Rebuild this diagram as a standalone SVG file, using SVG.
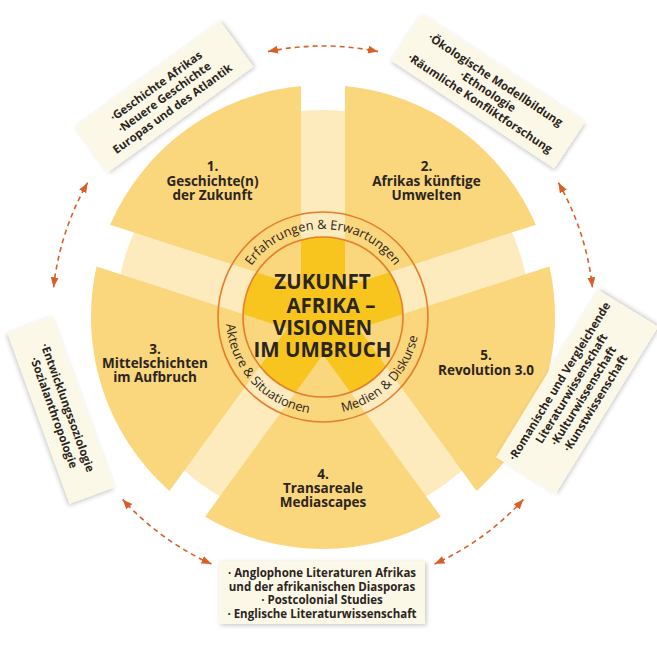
<svg xmlns="http://www.w3.org/2000/svg" xmlns:xlink="http://www.w3.org/1999/xlink" width="657" height="652" viewBox="0 0 657 652">
<style>
.sector{fill:#fad67d}
.lbl{font-family:"Open Sans","Liberation Sans",sans-serif;font-weight:700;font-size:13.5px;fill:#2b2520;text-anchor:middle}
.title{font-family:"Open Sans","Liberation Sans",sans-serif;font-weight:700;font-size:20.5px;fill:#2b2520;text-anchor:middle}
.ring{font-family:"Open Sans","Liberation Sans",sans-serif;font-size:12.8px;fill:#2b2520}
.box{fill:#fcf8e8;filter:url(#sh)}
.btxt{font-family:"Open Sans","Liberation Sans",sans-serif;font-weight:700;font-size:11.5px;fill:#2b2520;text-anchor:middle}
.arc{fill:none;stroke:#d95f28;stroke-width:1.6;stroke-dasharray:5 4;marker-start:url(#ah);marker-end:url(#ah)}
</style>
<defs>
<filter id="sh" x="-20%" y="-30%" width="140%" height="160%">
<feDropShadow dx="1.5" dy="1.5" stdDeviation="2" flood-color="#000" flood-opacity="0.22"/>
</filter>
<marker id="ah" markerUnits="userSpaceOnUse" markerWidth="11" markerHeight="9" refX="10" refY="4" orient="auto-start-reverse">
<path d="M0,0 L10,4 L0,8 Z" fill="#d95f28"/>
</marker>
<path id="rtop" d="M235 317 A88 88 0 0 1 411 317"/>
<path id="rbl" d="M256.5 245.7 A97.5 97.5 0 0 0 389.5 388.3"/>
<path id="rbr" d="M254.06 385.94 A97.5 97.5 0 0 0 391.94 248.06"/>
</defs>
<rect width="657" height="652" fill="#ffffff"/>

<g id="background">
<circle cx="323" cy="317" r="207" fill="#fdebbd"/>
<circle cx="323" cy="317" r="80" fill="#f8c51e"/>
</g>

<g id="sector1">
<path class="sector" d="M301 286.72 L110.14 224.72 A232 232 0 0 1 301 86.05 Z"/>
<text class="lbl" x="212.5" y="171">1.</text>
<text class="lbl" x="212.5" y="186">Geschichte(n)</text>
<text class="lbl" x="212.5" y="200">der Zukunft</text>
</g>
<g id="sector2">
<path class="sector" d="M345 286.7 L345 86.05 A232 232 0 0 1 535.86 224.72 Z"/>
<text class="lbl" x="426.5" y="171">2.</text>
<text class="lbl" x="426.5" y="186">Afrikas künftige</text>
<text class="lbl" x="426.5" y="200">Umwelten</text>
</g>
<g id="sector3">
<path class="sector" d="M287.4 328.57 L169.45 490.91 A232 232 0 0 1 96.54 266.56 Z"/>
<text class="lbl" x="155" y="354">3.</text>
<text class="lbl" x="155" y="368">Mittelschichten</text>
<text class="lbl" x="155" y="382">im Aufbruch</text>
</g>
<g id="sector4">
<path class="sector" d="M323 354.43 L440.95 516.77 A232 232 0 0 1 205.05 516.77 Z"/>
<text class="lbl" x="323" y="479">4.</text>
<text class="lbl" x="323" y="493">Transareale</text>
<text class="lbl" x="323" y="507">Mediascapes</text>
</g>
<g id="sector5">
<path class="sector" d="M358.6 328.57 L549.46 266.56 A232 232 0 0 1 476.55 490.91 Z"/>
<text class="lbl" x="486" y="360">5.</text>
<text class="lbl" x="486" y="375">Revolution 3.0</text>
</g>

<g id="center">
<circle cx="323" cy="317" r="105" fill="none" stroke="#e67d28" stroke-width="1.6"/>
<circle cx="323" cy="317" r="80" fill="none" stroke="#e67d28" stroke-width="1.6"/>
<text class="ring"><textPath xlink:href="#rtop" href="#rtop" startOffset="50%" text-anchor="middle">Erfahrungen &amp; Erwartungen</textPath></text>
<text class="ring"><textPath xlink:href="#rbl" href="#rbl" startOffset="50%" text-anchor="middle">Akteure &amp; Situationen</textPath></text>
<text class="ring"><textPath xlink:href="#rbr" href="#rbr" startOffset="50%" text-anchor="middle">Medien &amp; Diskurse</textPath></text>
<text class="title" x="322.5" y="289.3">ZUKUNFT</text>
<text class="title" x="331" y="312.7">AFRIKA –</text>
<text class="title" x="322.5" y="335">VISIONEN</text>
<text class="title" x="322.5" y="357.3">IM UMBRUCH</text>
</g>

<g id="box1" transform="translate(164 97) rotate(-36)">
<rect class="box" x="-90" y="-28" width="180" height="56"/>
<text class="btxt" x="0" y="-9.5">·Geschichte Afrikas</text>
<text class="btxt" x="0" y="4.5">·Neuere Geschichte</text>
<text class="btxt" x="0" y="18.5">Europas und des Atlantik</text>
</g>
<g id="box2" transform="translate(488 91) rotate(33.5)">
<rect class="box" x="-98" y="-28" width="196" height="56"/>
<text class="btxt" x="0" y="-9.5">·Ökologische Modellbildung</text>
<text class="btxt" x="0" y="4.5">·Ethnologie</text>
<text class="btxt" x="0" y="18.5">·Räumliche Konfliktforschung</text>
</g>
<g id="box3" transform="translate(61 410) rotate(70)">
<rect class="box" x="-91" y="-24" width="182" height="48"/>
<text class="btxt" x="0" y="-3">·Entwicklungssoziologie</text>
<text class="btxt" x="0" y="11.5">·Sozialanthropologie</text>
</g>
<g id="box5" transform="translate(577 392) rotate(-58.5)">
<rect class="box" x="-98" y="-35" width="196" height="70"/>
<text class="btxt" x="0" y="-16.5">·Romanische und Vergleichende</text>
<text class="btxt" x="0" y="-2.5">Literaturwissenschaft</text>
<text class="btxt" x="0" y="11.5">·Kulturwissenschaft</text>
<text class="btxt" x="0" y="25.5">·Kunstwissenschaft</text>
</g>
<g id="box4">
<rect class="box" x="219" y="561" width="206" height="63"/>
<text class="btxt" x="322" y="577">· Anglophone Literaturen Afrikas</text>
<text class="btxt" x="322" y="590.7">und der afrikanischen Diasporas</text>
<text class="btxt" x="322" y="604.4">· Postcolonial Studies</text>
<text class="btxt" x="322" y="618">· Englische Literaturwissenschaft</text>
</g>

<g id="connectors">
<path class="arc" d="M268 51.6 A271 271 0 0 1 378 51.6"/>
<path class="arc" d="M558.4 182.7 A271 271 0 0 1 592.4 287.3"/>
<path class="arc" d="M523.4 499.4 A271 271 0 0 1 434.5 564"/>
<path class="arc" d="M211.5 564 A271 271 0 0 1 122.6 499.4"/>
<path class="arc" d="M53.6 287.3 A271 271 0 0 1 87.6 182.7"/>
</g>
</svg>
